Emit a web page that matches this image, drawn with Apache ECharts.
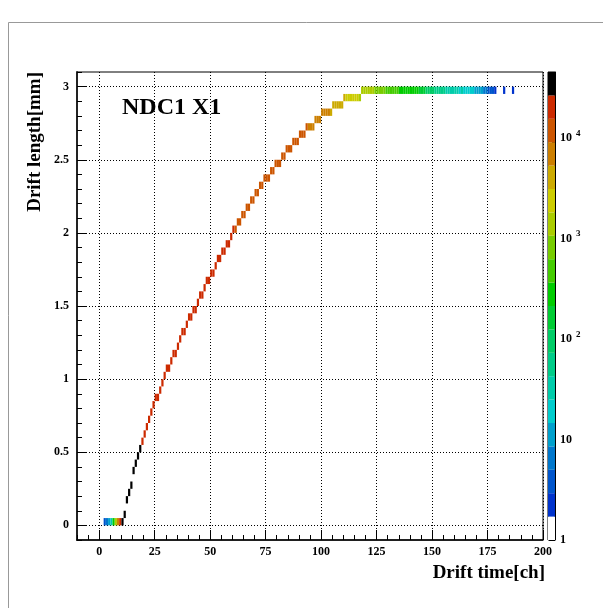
<!DOCTYPE html>
<html>
<head>
<meta charset="utf-8">
<script src="https://cdn.jsdelivr.net/npm/echarts@6/dist/echarts.min.js"></script>
<style>
  html, body { margin: 0; padding: 0; background: #ffffff; }
  #chart { width: 603px; height: 608px; }
</style>
</head>
<body>
<div id="chart"></div>
<script>
// NDC1 X1: drift time [ch] vs drift length [mm], 2D histogram (1 ch x 0.05 mm bins)

// drift time channel of each filled cell
const driftTime = [
  2, 3, 4, 5, 6, 7, 8, 9, 10,
  11, 12, 13, 14, 15, 16, 17, 18,
  19, 20, 21, 22, 23, 24, 25, 26, 27, 28, 29, 30, 31, 32, 33, 34, 35, 36, 37, 38, 39,
  40, 41, 42, 43, 44, 45, 46, 47, 48, 49, 50, 51, 52, 53, 54, 55, 56, 57, 58, 59,
  60, 61, 62, 63, 64, 65, 66, 67, 68, 69, 70, 71, 72, 73, 74, 75, 76, 77, 78, 79,
  80, 81, 82, 83, 84, 85, 86, 87, 88, 89, 90, 91, 92, 93, 94, 95, 96, 97, 98, 99,
  100, 101, 102, 103, 104, 105, 106, 107, 108, 109, 110, 111, 112, 113, 114, 115, 116, 117,
  118, 119, 120, 121, 122, 123, 124, 125, 126, 127, 128, 129, 130, 131, 132, 133, 134,
  135, 136, 137, 138, 139, 140, 141, 142, 143, 144, 145, 146, 147, 148, 149, 150,
  151, 152, 153, 154, 155, 156, 157, 158, 159, 160, 161, 162, 163, 164, 165, 166, 167, 168,
  169, 170, 171, 172, 173, 174, 175, 176, 177, 178, 182, 186
];

// lower edge of the drift length bin [mm]
const lengthBin = [
  0, 0, 0, 0, 0, 0, 0, 0, 0,
  0.05, 0.15, 0.20, 0.25, 0.35, 0.40, 0.45, 0.50,
  0.55, 0.60, 0.65, 0.70, 0.75, 0.80, 0.85, 0.85, 0.90, 0.95, 1.00, 1.05, 1.05, 1.10, 1.15, 1.15, 1.20, 1.25, 1.30, 1.30, 1.35,
  1.40, 1.40, 1.45, 1.45, 1.50, 1.55, 1.55, 1.60, 1.65, 1.65, 1.70, 1.70, 1.75, 1.80, 1.80, 1.85, 1.85, 1.90, 1.90, 1.95,
  2.00, 2.00, 2.05, 2.05, 2.10, 2.10, 2.15, 2.15, 2.20, 2.20, 2.25, 2.25, 2.30, 2.30, 2.35, 2.35, 2.35, 2.40, 2.40, 2.45,
  2.45, 2.45, 2.50, 2.50, 2.55, 2.55, 2.55, 2.60, 2.60, 2.60, 2.65, 2.65, 2.65, 2.70, 2.70, 2.70, 2.70, 2.75, 2.75, 2.75,
  2.80, 2.80, 2.80, 2.80, 2.80, 2.85, 2.85, 2.85, 2.85, 2.85, 2.90, 2.90, 2.90, 2.90, 2.90, 2.90, 2.90, 2.90,
  2.95, 2.95, 2.95, 2.95, 2.95, 2.95, 2.95, 2.95, 2.95, 2.95, 2.95, 2.95, 2.95, 2.95, 2.95, 2.95, 2.95,
  2.95, 2.95, 2.95, 2.95, 2.95, 2.95, 2.95, 2.95, 2.95, 2.95, 2.95, 2.95, 2.95, 2.95, 2.95, 2.95,
  2.95, 2.95, 2.95, 2.95, 2.95, 2.95, 2.95, 2.95, 2.95, 2.95, 2.95, 2.95, 2.95, 2.95, 2.95, 2.95, 2.95, 2.95,
  2.95, 2.95, 2.95, 2.95, 2.95, 2.95, 2.95, 2.95, 2.95, 2.95, 2.95, 2.95
];

// entries in each cell
const binCounts = [
  3, 6, 11, 33, 270, 1400, 7000, 21000, 36000,
  31000, 38000, 41000, 40000, 39000, 37000, 33000, 28500,
  26000, 25400, 25100, 24600, 24300, 23900, 23600, 23200, 23000, 22600, 22400, 22100, 21900, 21500, 21300, 21000, 20800, 20600, 20300, 20100, 19900,
  19600, 19400, 19200, 18900, 18700, 18500, 18300, 18100, 17800, 17700, 17500, 17300, 17100, 16900, 16700, 16500, 16400, 16200, 16000, 15800,
  15600, 15300, 15000, 14800, 14500, 14300, 14000, 13800, 13500, 13300, 13100, 12800, 12600, 12400, 12200, 12000, 11800, 11600, 11400, 11200,
  11000, 10900, 10700, 10500, 10400, 10200, 10100, 9900, 9800, 9700, 9600, 9500, 9400, 9200, 8800, 8400, 8000, 7700, 7300, 7000,
  6700, 6400, 6000, 5600, 5100, 4800, 4500, 4200, 3900, 3600, 3300, 3000, 2800, 2600, 2400, 2200, 2000, 1750,
  1650, 1550, 1450, 1350, 1250, 1150, 1000, 920, 850, 760, 680, 600, 560, 520, 470, 430, 390,
  350, 330, 310, 290, 275, 260, 245, 232, 220, 200, 175, 150, 118, 105, 92, 80,
  70, 64, 58, 52, 46, 41, 39, 36, 33, 30, 28, 16, 26, 23, 21, 19, 17, 15,
  13, 12, 10, 9, 7, 6, 4, 4, 3, 2, 2, 2
];

// axis tick labels
const timeTicks = [0, 25, 50, 75, 100, 125, 150, 175, 200];
const lengthTicks = [0, 0.5, 1, 1.5, 2, 2.5, 3];
const countDecades = [0, 1, 2, 3, 4]; // log10 of 1, 10, 100, 1000, 10000

// colour palette of the z scale (low -> high), one colour per contour
const palette = [
  '#ffffff', '#0033cc', '#0055cc', '#0077cc', '#00a0cc', '#00cccc', '#00ccaa',
  '#00cc88', '#00cc66', '#00cc33', '#00cc00', '#44cc00', '#77cc00', '#aacc00',
  '#cccc00', '#ccaa00', '#cc7f00', '#cc5500', '#cc2a00', '#000000'
];
const zMax = 45400;
const nContours = palette.length;

const timeBinWidth = 1;
const lengthBinWidth = 0.05;

const serif = "'Liberation Serif', 'DejaVu Serif', serif";
const logTop = Math.log10(zMax);
const step = logTop / nContours;

// contour pieces in count space
const pieces = palette.map((c, i) => {
  const p = { color: c };
  if (i > 0) p.gte = Math.pow(10, i * step);
  if (i < nContours - 1) p.lt = Math.pow(10, (i + 1) * step);
  return p;
});

// minor ticks of the z axis in log10 units
const zMinor = [];
countDecades.forEach(d => {
  for (let k = 2; k <= 9; k++) {
    const v = d + Math.log10(k);
    if (v <= logTop) zMinor.push(v);
  }
});

const cells = driftTime.map((t, i) => [t, lengthBin[i], binCounts[i]]);

const tickLabelStyle = {
  fontFamily: serif, fontWeight: 'bold', fontSize: 12, color: '#000'
};
const gridDots = { show: true, lineStyle: { color: '#000', width: 1, type: [1, 2] } };
const noLine = { show: false, onZero: false };

const chart = echarts.init(document.getElementById('chart'), null, { renderer: 'canvas' });

chart.setOption({
  animation: false,
  backgroundColor: '#ffffff',
  grid: [
    { left: 77, top: 72, width: 466, height: 468, show: true, borderColor: '#000', borderWidth: 1, backgroundColor: 'transparent' },
    { left: 548, top: 72, width: 7, height: 468, show: true, borderColor: '#000', borderWidth: 1, backgroundColor: 'transparent' }
  ],
  xAxis: [
    {
      gridIndex: 0, type: 'value', min: -10, max: 200, position: 'bottom',
      axisLine: { show: true, onZero: false, lineStyle: { color: '#000', width: 1.5 } },
      axisTick: { show: true, inside: true, length: 10, customValues: timeTicks, lineStyle: { color: '#000', width: 1 } },
      axisLabel: Object.assign({ customValues: timeTicks, margin: 6 }, tickLabelStyle),
      splitLine: gridDots
    },
    {
      gridIndex: 0, type: 'value', min: -10, max: 200, interval: 5, position: 'bottom',
      axisLine: noLine,
      axisTick: { show: true, inside: true, length: 5, lineStyle: { color: '#000', width: 1 } },
      axisLabel: { show: false },
      splitLine: { show: false }
    },
    {
      gridIndex: 1, type: 'value', min: 0, max: 1, show: false,
      axisLine: noLine
    }
  ],
  yAxis: [
    {
      gridIndex: 0, type: 'value', min: -0.1, max: 3.1, position: 'left',
      axisLine: { show: true, onZero: false, lineStyle: { color: '#222', width: 2 } },
      axisTick: { show: true, inside: true, length: 10, customValues: lengthTicks, lineStyle: { color: '#000', width: 1 } },
      axisLabel: Object.assign({ customValues: lengthTicks, margin: 8 }, tickLabelStyle),
      splitLine: gridDots
    },
    {
      gridIndex: 0, type: 'value', min: -0.1, max: 3.1, interval: 0.1, position: 'left',
      axisLine: noLine,
      axisTick: { show: true, inside: true, length: 5, lineStyle: { color: '#000', width: 1 } },
      axisLabel: { show: false },
      splitLine: { show: false }
    },
    {
      gridIndex: 1, type: 'value', min: 0, max: logTop, position: 'right',
      axisLine: { show: true, onZero: false, lineStyle: { color: '#000', width: 1 } },
      axisTick: { show: true, inside: true, length: 6, customValues: countDecades, lineStyle: { color: '#000', width: 1 } },
      axisLabel: {
        customValues: countDecades, margin: 5,
        fontFamily: serif, fontWeight: 'bold', fontSize: 12, color: '#000',
        formatter: v => (v === 0 ? '1' : v === 1 ? '10' : '10{sup|' + v + '}'),
        rich: {
          sup: { fontFamily: serif, fontWeight: 'bold', fontSize: 9, color: '#000', padding: [0, 0, 9, 4] }
        }
      },
      splitLine: { show: false }
    },
    {
      gridIndex: 1, type: 'value', min: 0, max: logTop, position: 'right',
      axisLine: noLine,
      axisTick: { show: true, inside: true, length: 3, customValues: zMinor, lineStyle: { color: '#000', width: 1 } },
      axisLabel: { show: false },
      splitLine: { show: false }
    }
  ],
  visualMap: [{
    type: 'piecewise', show: false, seriesIndex: 0, dimension: 2, pieces: pieces
  }],
  series: [
    {
      type: 'custom',
      xAxisIndex: 0, yAxisIndex: 0,
      data: cells,
      clip: true,
      renderItem: (params, api) => {
        const t = api.value(0);
        const y = api.value(1);
        const a = api.coord([t, y + lengthBinWidth]);
        const b = api.coord([t + timeBinWidth, y]);
        return {
          type: 'rect',
          shape: { x: a[0], y: a[1], width: b[0] - a[0], height: b[1] - a[1] },
          style: { fill: api.visual('color') }
        };
      }
    },
    {
      type: 'custom',
      xAxisIndex: 2, yAxisIndex: 2,
      data: palette.map((c, i) => [i]),
      renderItem: (params, api) => {
        const i = api.value(0);
        const a = api.coord([0, (i + 1) * step]);
        const b = api.coord([1, i * step]);
        return {
          type: 'rect',
          shape: { x: a[0], y: a[1], width: b[0] - a[0], height: b[1] - a[1] },
          style: { fill: palette[i] }
        };
      },
      z: 1
    }
  ],
  graphic: [
    {
      type: 'rect', silent: true, z: -10,
      shape: { x: 8.5, y: 22.5, width: 700, height: 700 },
      style: { fill: 'transparent', stroke: '#999', lineWidth: 1 }
    },
    {
      type: 'text', x: 122, y: 108,
      style: { text: 'NDC1 X1', font: 'bold 24px ' + serif, fill: '#000', align: 'left', verticalAlign: 'middle' }
    },
    {
      type: 'text', x: 35, y: 72, rotation: Math.PI / 2,
      style: { text: 'Drift length[mm]', font: 'bold 19px ' + serif, fill: '#000', align: 'right', verticalAlign: 'middle' }
    },
    {
      type: 'text', x: 545, y: 573,
      style: { text: 'Drift time[ch]', font: 'bold 19px ' + serif, fill: '#000', align: 'right', verticalAlign: 'middle' }
    }
  ]
});
</script>
</body>
</html>
